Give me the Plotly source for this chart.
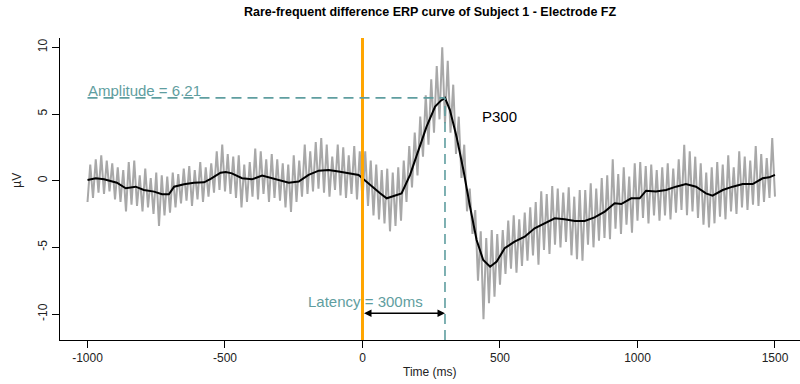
import plotly.graph_objects as go

# ---- data ----
raw_start = -1000
raw_step = 10
raw_uv = [
    -1.6, 1.2, -1.3, 1.6, -0.9, 1.9, -1.0, 1.5, -0.8, 1.3,
    -1.4, 1.0, -1.6, 0.8, -2.3, 1.4, -1.8, 1.5, -1.9, 0.4,
    -2.3, 0.9, -2.0, 0.2, -2.5, 0.6, -3.4, 0.4, -2.6, 0.3,
    -2.4, 0.6, -2.0, 0.5, -1.7, 0.9, -1.5, 1.1, -1.9, 0.8,
    -1.4, 1.4, -1.6, 1.0, -1.2, 1.3, -0.9, 2.2, -0.7, 2.7,
    -0.8, 2.0, -1.0, 1.8, -1.3, 1.9, -2.0, 1.2, -1.6, 1.4,
    -1.2, 2.4, -1.4, 2.2, -1.0, 1.6, -1.6, 2.0, -1.3, 1.6,
    -1.5, 1.3, -2.0, 1.2, -2.35, 1.9, -1.6, 1.5, -1.2, 2.7,
    -1.0, 2.2, -0.8, 2.9, -0.6, 3.2, -0.9, 2.7, -1.2, 1.8,
    -0.7, 2.7, -1.1, 2.5, -1.3, 1.9, -1.0, 2.6, -1.4, 2.2,
    -1.5, 2.2, -1.9, 1.5, -2.6, 1.2, -2.9, 0.8, -3.2, 0.9,
    -3.8, 0.6, -3.4, 1.0, -3.0, 1.5, -1.6, 2.6, -0.5, 3.6,
    0.4, 4.8, 1.8, 6.4, 2.7, 7.6, 3.6, 8.6, 4.6, 10.0,
    4.3, 9.0, 3.6, 7.2, 2.0, 4.8, 0.2, 2.7, -2.3, -0.6,
    -4.0, -2.2, -7.5, -3.8, -10.4, -4.3, -9.2, -3.7, -8.7, -4.0,
    -7.8, -3.7, -7.0, -3.0, -6.6, -2.6, -6.9, -2.9, -6.4, -2.4,
    -6.0, -2.0, -5.6, -1.6, -6.3, -0.8, -5.2, -1.0, -5.5, -0.4,
    -4.8, -0.6, -5.0, -0.9, -4.6, -0.5, -5.6, -1.2, -5.9, -0.7,
    -6.0, -0.7, -4.8, -0.2, -5.0, -0.6, -4.5, 0.2, -4.3, 0.4,
    -4.4, 1.6, -3.6, 0.5, -4.0, 1.0, -3.3, 0.3, -3.9, 1.3,
    -3.0, 1.4, -2.8, 1.1, -3.2, 1.2, -2.6, 0.8, -3.0, 1.0,
    -2.6, 1.3, -2.9, 0.9, -2.4, 1.6, -2.2, 2.7, -2.6, 2.2,
    -2.3, 1.8, -2.8, 1.3, -3.3, 0.6, -3.5, 1.0, -3.2, 1.4,
    -2.7, 1.2, -2.9, 1.9, -2.3, 1.0, -2.5, 2.2, -2.0, 1.8,
    -2.2, 1.5, -1.8, 2.6, -1.9, 2.0, -1.6, 1.7, -1.3, 3.2, -1.2,
]
raw_ms = [raw_start + raw_step * i for i in range(len(raw_uv))]

smooth_ms = [
    -1000, -970, -940, -893, -861, -825, -795, -758, -729, -704, -685, -649,
    -613, -576, -552, -516, -497, -475, -438, -402, -365, -329, -293, -268,
    -232, -196, -159, -123, -87, -50, -14, 4, 27, 64, 88, 112, 142, 173,
    203, 233, 264, 285, 300, 318, 342, 367, 391, 415, 439, 464, 488, 517,
    553, 590, 626, 663, 699, 735, 772, 808, 844, 881, 917, 941, 977, 1008,
    1031, 1067, 1104, 1140, 1176, 1213, 1249, 1273, 1310, 1346, 1383, 1419,
    1455, 1479, 1500,
]
smooth_uv = [
    0.05, 0.18, 0.10, -0.15, -0.57, -0.45, -0.70, -0.82, -1.02, -1.02, -0.45, -0.27,
    -0.15, -0.12, 0.13, 0.60, 0.65, 0.55, 0.18, 0.10, 0.38, 0.18, 0.00, -0.15,
    -0.07, 0.43, 0.75, 0.80, 0.68, 0.55, 0.43, 0.10, -0.32, -0.95, -1.32, -1.15, -0.95, 0.43,
    2.30, 4.05, 5.55, 6.00, 6.21, 5.30, 3.30, 0.80, -1.95, -4.45, -5.95, -6.45, -6.07, -5.07,
    -4.57, -4.20, -3.57, -3.20, -2.82, -2.90, -3.02, -3.02, -2.75, -2.32, -1.70, -1.75, -1.32, -1.32,
    -0.75, -0.82, -0.70, -0.45, -0.25, -0.45, -0.95, -1.12, -0.70, -0.45, -0.25, -0.25,
    0.18, 0.25, 0.43,
]

peak_latency = 300
peak_amplitude = 6.21
x_ticks = [-1000, -500, 0, 500, 1000, 1500]
x_tick_text = ["-1000", "-500", "0", "500", "1000", "1500"]
y_ticks = [-10, -5, 0, 5, 10]
y_tick_text = ["-10", "-5", "0", "5", "10"]

title_text = "Rare-frequent difference ERP curve of Subject 1 - Electrode FZ"
amp_label = "Amplitude = 6.21"
lat_label = "Latency = 300ms"

TEAL = "#5F9EA0"
FONT = "Liberation Sans, Arial, sans-serif"

# plot area in pixels: top 38, bottom 340
PLOT_TOP, PLOT_BOTTOM = 38, 340
def py(pix):
    return (PLOT_BOTTOM - pix) / (PLOT_BOTTOM - PLOT_TOP)

Y_MIN, Y_MAX = -11.95, 10.7

fig = go.Figure()
fig.add_trace(go.Scatter(x=raw_ms, y=raw_uv, mode="lines",
                         line=dict(color="#A8A8A8", width=2), hoverinfo="skip"))
fig.add_trace(go.Scatter(x=smooth_ms, y=smooth_uv, mode="lines",
                         line=dict(color="black", width=2), hoverinfo="skip"))

fig.add_shape(type="line", xref="x", yref="paper", x0=0, x1=0, y0=0, y1=1,
              line=dict(color="#FFA500", width=3))
fig.add_shape(type="line", xref="x", yref="y", x0=-1000, x1=peak_latency,
              y0=peak_amplitude, y1=peak_amplitude,
              line=dict(color=TEAL, width=1.6, dash="10px,6px"))
fig.add_shape(type="line", xref="x", yref="paper", x0=peak_latency, x1=peak_latency,
              y0=0, y1=(peak_amplitude - Y_MIN) / (Y_MAX - Y_MIN),
              line=dict(color=TEAL, width=1.6, dash="10px,6px"))

annotations = [
    dict(text=amp_label, x=-1000, y=6.80, xref="x", yref="y", xanchor="left",
         yanchor="middle", showarrow=False, font=dict(color=TEAL, size=15, family=FONT),
         xshift=-2),
    dict(text="P300", x=500, y=4.85, xref="x", yref="y", xanchor="center",
         yanchor="middle", showarrow=False, font=dict(color="black", size=15, family=FONT)),
    dict(text=lat_label, x=12, y=-9.03, xref="x", yref="y", xanchor="center",
         yanchor="middle", showarrow=False, font=dict(color=TEAL, size=15, family=FONT)),
    dict(text="", x=peak_latency, y=-9.95, ax=0, ay=-9.95, xref="x", yref="y",
         axref="x", ayref="y", showarrow=True, arrowhead=2, startarrowhead=2,
         arrowside="end+start", arrowsize=1, arrowwidth=1.5, arrowcolor="black"),
    dict(text="<b>" + title_text + "</b>", x=0.5, y=py(12), xref="paper",
         yref="paper", xanchor="center", yanchor="middle", showarrow=False,
         font=dict(color="black", size=12.5, family=FONT)),
    dict(text="Time (ms)", x=0.5, y=py(372), xref="paper", yref="paper",
         xanchor="center", yanchor="middle", showarrow=False,
         font=dict(color="#222", size=12, family=FONT)),
    dict(text="µV", x=(17 - 60) / 740, y=0.0, xref="paper", yref="y",
         xanchor="center", yanchor="middle", showarrow=False, textangle=-90,
         font=dict(color="#222", size=12, family=FONT)),
]

fig.update_layout(
    width=800, height=384,
    margin=dict(l=60, r=0, t=PLOT_TOP, b=384 - PLOT_BOTTOM),
    plot_bgcolor="white", paper_bgcolor="white",
    showlegend=False,
    annotations=annotations,
    font=dict(family=FONT, size=12, color="#222"),
)
fig.update_xaxes(range=[-1100, 1591], tickvals=x_ticks, ticktext=x_tick_text,
                 showgrid=False, zeroline=False,
                 showline=True, linecolor="black", linewidth=1, ticks="outside",
                 ticklen=7, tickcolor="black", tickfont=dict(size=12, family=FONT, color="#222"))
fig.update_yaxes(range=[Y_MIN, Y_MAX], tickvals=y_ticks, ticktext=y_tick_text,
                 showgrid=False, zeroline=False,
                 showline=True, linecolor="black", linewidth=1, ticks="outside",
                 ticklen=7, tickcolor="black", tickangle=-90,
                 tickfont=dict(size=12, family=FONT, color="#222"))

fig.write_html("out.html")
